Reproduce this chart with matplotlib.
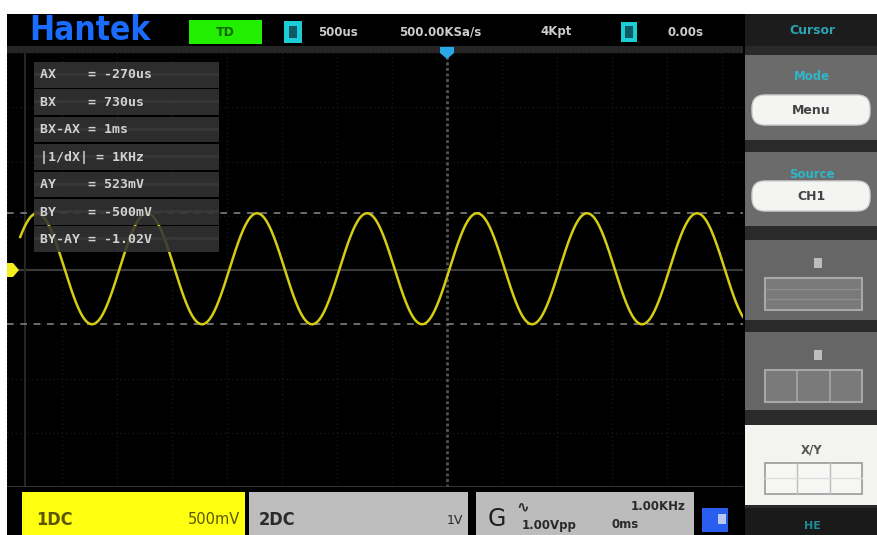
import matplotlib
matplotlib.use("Agg")
import matplotlib.pyplot as plt
import numpy as np
from matplotlib.patches import Rectangle, FancyBboxPatch, Polygon

# signal on CH1
sig_freq_khz = 1.0        # 1.00KHz
sig_high_v = 0.523        # AY
sig_low_v = -0.500        # BY
sig_peak_ms = -0.727      # time of one crest

# cursors
cursor_lines_v = [0.523, -0.500]
cursor_labels = ["AX    = -270us", "BX    = 730us", "BX-AX = 1ms", "|1/dX| = 1KHz",
                 "AY    = 523mV", "BY    = -500mV", "BY-AY = -1.02V"]

# top status bar
time_base = "500us"
sample_rate = "500.00KSa/s"
mem_depth = "4Kpt"
trig_pos = "0.00s"

# screen scale
t_per_div = 0.5   # ms
v_per_div = 0.5   # V
t_range = (-4.0, 2.69)
v_range = (-2.0, 2.0)

W, H = 877, 535
fig = plt.figure(figsize=(W / 100, H / 100), dpi=100)
fig.patch.set_facecolor("white")

bg = fig.add_axes([0, 0, 1, 1])
bg.set_xlim(0, W)
bg.set_ylim(H, 0)
bg.axis("off")


def box(ax, x0, y0, x1, y1, fc, ec="none", lw=0, z=1, alpha=1.0):
    ax.add_patch(Rectangle((x0, y0), x1 - x0, y1 - y0, facecolor=fc, edgecolor=ec,
                           linewidth=lw, zorder=z, alpha=alpha))


def txt(ax, x, y, s, size=8.5, color="#cccccc", ha="left", weight="bold", **kw):
    ax.text(x, y, s, fontsize=size, color=color, ha=ha, va="center",
            fontweight=weight, zorder=5, **kw)


# scope frame
box(bg, 7, 14, 745, 535, "#000000")
box(bg, 7, 46, 743, 53, "#262626", z=2)

# top bar
txt(bg, 29, 30, "Hantek", size=24, color="#1a6cff", stretch="condensed")
box(bg, 189, 20, 262, 44, "#22ee00", z=2)
txt(bg, 225, 32, "TD", size=9, color="#0f6a00", ha="center")
box(bg, 284, 21, 302, 43, "#1ccdd6", z=2)
box(bg, 289, 26, 297, 38, "#0f5a66", z=3)
txt(bg, 318, 32, time_base, size=8.5)
txt(bg, 399, 32, sample_rate, size=8.5)
txt(bg, 540, 32, mem_depth, size=8.5)
box(bg, 621, 22, 637, 42, "#1ccdd6", z=2)
box(bg, 625, 26, 633, 38, "#0f5a66", z=3)
txt(bg, 668, 32, trig_pos, size=8.5)

# right menu
box(bg, 745, 14, 877, 535, "#2a2a2a")
box(bg, 745, 14, 877, 46, "#1c1c1c", z=2)
txt(bg, 812, 30, "Cursor", size=9, color="#2ba4b4", ha="center")
menu = [(55, 140, "Mode", "Menu"), (152, 226, "Source", "CH1")]
for y0, y1, lab, btn in menu:
    box(bg, 745, y0, 877, y1, "#6b6b6b", z=2)
    txt(bg, 812, y0 + 22, lab, size=8.5, color="#2fb6c8", ha="center")
    bg.add_patch(FancyBboxPatch((752, y1 - 45), 118, 30, boxstyle="round,pad=0,rounding_size=13",
                                facecolor="#f4f4f2", edgecolor="#d0d0d0", lw=1, zorder=3))
    txt(bg, 811, y1 - 30, btn, size=9, color="#444444", ha="center")
for y0, y1, ncol in [(240, 320, 1), (332, 410, 3)]:
    box(bg, 745, y0, 877, y1, "#666666", z=2)
    box(bg, 814, y0 + 18, 822, y0 + 28, "#bdbdbd", z=3)
    box(bg, 765, y0 + 38, 862, y0 + 70, "#7a7a7a", ec="#a8a8a8", lw=1.5, z=3)
    for k in range(1, ncol):
        xx = 765 + k * 97 / ncol
        bg.plot([xx, xx], [y0 + 38, y0 + 70], color="#a8a8a8", lw=1.2, zorder=4)
    if ncol == 1:
        for yy in (y0 + 49, y0 + 59):
            bg.plot([767, 860], [yy, yy], color="#8e8e8e", lw=1, zorder=4)
box(bg, 745, 425, 877, 505, "#f3f3ef", z=2)
txt(bg, 812, 450, "X/Y", size=8.5, color="#555555", ha="center")
box(bg, 765, 463, 862, 494, "#f6f6f4", ec="#9a9a9a", lw=1.2, z=3)
for xx in (797, 830):
    bg.plot([xx, xx], [463, 494], color="#bdbdbd", lw=1, zorder=4)
bg.plot([765, 862], [478, 478], color="#dddddd", lw=1, zorder=4)
box(bg, 745, 508, 877, 535, "#1a1a1a", z=2)
txt(bg, 812, 526, "HE", size=8, color="#1d8c96", ha="center")

# bottom channel bar
box(bg, 22, 492, 245, 535, "#ffff10", z=2)
txt(bg, 36, 520, "1DC", size=13, color="#5c5600", stretch="condensed")
txt(bg, 240, 520, "500mV", size=10.5, color="#5c5600", ha="right", weight="normal")
box(bg, 249, 492, 468, 535, "#bdbdbd", z=2)
txt(bg, 259, 520, "2DC", size=13, color="#2a2a2a", stretch="condensed")
txt(bg, 463, 520, "1V", size=9, color="#2a2a2a", ha="right", weight="normal")
box(bg, 476, 492, 694, 535, "#bcbcbc", z=2)
txt(bg, 488, 519, "G", size=17, color="#1e1e1e", weight="normal")
txt(bg, 516, 507, "\u223f", size=11, color="#2a2a2a")
txt(bg, 686, 507, "1.00KHz", size=8.5, color="#2a2a2a", ha="right")
txt(bg, 522, 525, "1.00Vpp", size=8.5, color="#2a2a2a")
txt(bg, 612, 525, "0ms", size=8.5, color="#2a2a2a")
box(bg, 702, 508, 728, 532, "#2a5ef0", z=2)
box(bg, 718, 514, 726, 524, "#b8c8f0", z=3)

# waveform area
wx0, wx1, wy0, wy1 = 7, 743, 53, 487
wave = fig.add_axes([wx0 / W, (H - wy1) / H, (wx1 - wx0) / W, (wy1 - wy0) / H])
wave.set_facecolor("black")
wave.set_xlim(*t_range)
wave.set_ylim(*v_range)
for sp in wave.spines.values():
    sp.set_visible(False)
wave.set_xticks([])
wave.set_yticks([])

for tx in np.arange(-8, 6) * t_per_div:
    wave.axvline(tx, color="#161616", lw=1, ls=(0, (1, 2)))
for vy in np.arange(-4, 5) * v_per_div:
    wave.axhline(vy, color="#161616", lw=1, ls=(0, (1, 2)))
wave.axvline(0, color="#555555", lw=2, ls=(0, (1, 1)))
wave.axhline(0, color="#3a3a3a", lw=1.5)
wave.axvline(t_range[0] + 0.16, color="#262626", lw=1.5)
wave.axhline(v_range[0], color="#3a3a3a", lw=2)

t = np.linspace(-3.88, t_range[1], 1500)
mid = (sig_high_v + sig_low_v) / 2
amp = (sig_high_v - sig_low_v) / 2
v = mid + amp * np.cos(2 * np.pi * sig_freq_khz * (t - sig_peak_ms))
for cv in cursor_lines_v:
    wave.axhline(cv, color="#7e7e7e", lw=1.2, ls=(0, (4, 4)), zorder=2)
wave.plot(t, v, color="#d6cc12", lw=1.8, zorder=3)

# overlay: cursor readout, markers
ov = fig.add_axes([0, 0, 1, 1])
ov.set_xlim(0, W)
ov.set_ylim(H, 0)
ov.axis("off")
ov.patch.set_alpha(0)
for i, s in enumerate(cursor_labels):
    y0 = 62 + i * 27.4
    box(ov, 34, y0, 219, y0 + 25.5, "#343434", z=2, alpha=0.88)
    box(ov, 34, y0 + 11, 219, y0 + 14, "#3e3e3e", z=2, alpha=0.6)
    txt(ov, 40, y0 + 13, s, size=9.5, color="#d2d2d2", family="DejaVu Sans Mono")
ov.add_patch(Polygon([[440, 47], [454, 47], [454, 53], [447, 59], [440, 53]],
                     closed=True, facecolor="#29a8e8", edgecolor="none", zorder=4))
ov.add_patch(Polygon([[7, 263], [13, 263], [19, 270], [13, 277], [7, 277]],
                     closed=True, facecolor="#f2ee20", edgecolor="none", zorder=4))

fig.savefig("out.png", dpi=100, facecolor="white")
